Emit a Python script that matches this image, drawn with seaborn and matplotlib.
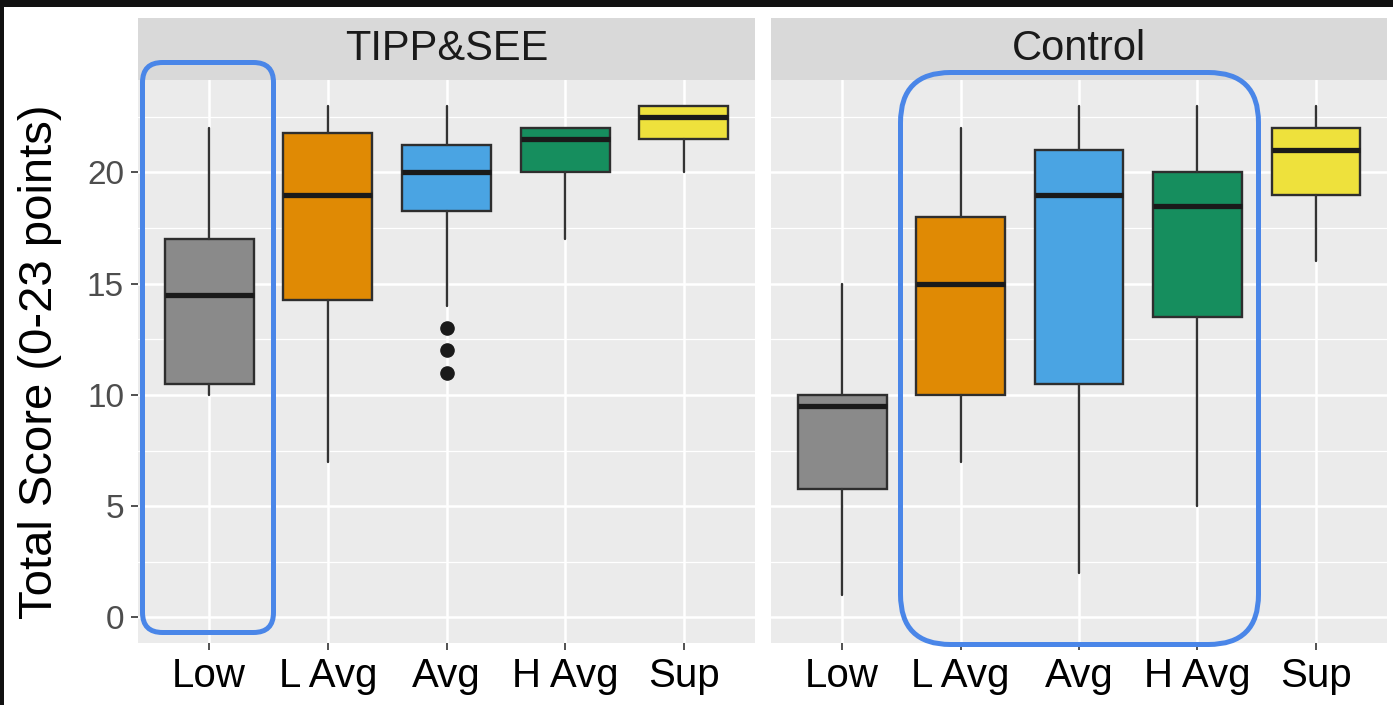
import matplotlib
matplotlib.use("Agg")
import numpy as np
import pandas as pd
import matplotlib.pyplot as plt
from matplotlib.patches import Rectangle, FancyBboxPatch
from matplotlib.transforms import IdentityTransform
import seaborn as sns

# ---- data -------------------------------------------------------------
groups = ["Low", "L Avg", "Avg", "H Avg", "Sup"]
arms = ["TIPP&SEE", "Control"]
fills = ["#8A8A8A", "#E08A04", "#4AA4E3", "#168E5E", "#EEE13C"]

tipp_whislo = [10, 7, 14, 17, 20]
tipp_q1 = [10.5, 14.25, 18.25, 20, 21.5]
tipp_med = [14.5, 19, 20, 21.5, 22.5]
tipp_q3 = [17, 21.75, 21.25, 22, 23]
tipp_whishi = [22, 23, 23, 22, 23]
tipp_outliers = {"Avg": [13, 12, 11]}

ctrl_whislo = [1, 7, 2, 5, 16]
ctrl_q1 = [5.75, 10, 10.5, 13.5, 19]
ctrl_med = [9.5, 15, 19, 18.5, 21]
ctrl_q3 = [10, 18, 21, 20, 22]
ctrl_whishi = [15, 22, 23, 23, 23]
ctrl_outliers = {}

y_major = [0, 5, 10, 15, 20]
y_minor = [2.5, 7.5, 12.5, 17.5, 22.5]
y_label = "Total Score (0-23 points)"

# ---- tidy table of box statistics ---------------------------------------
rows = []
for arm, lo, q1, med, q3, hi, outl in [
    ("TIPP&SEE", tipp_whislo, tipp_q1, tipp_med, tipp_q3, tipp_whishi, tipp_outliers),
    ("Control", ctrl_whislo, ctrl_q1, ctrl_med, ctrl_q3, ctrl_whishi, ctrl_outliers),
]:
    for i, grp in enumerate(groups):
        rows.append(dict(arm=arm, group=grp, pos=i, whislo=lo[i], q1=q1[i],
                         med=med[i], q3=q3[i], whishi=hi[i],
                         fliers=outl.get(grp, [])))
stats = pd.DataFrame(rows)

# ---- theme --------------------------------------------------------------
sns.set_theme(style="darkgrid", rc={
    "axes.facecolor": "#EBEBEB",
    "grid.color": "white",
    "figure.facecolor": "white",
    "xtick.bottom": True,
    "ytick.left": True,
})
plt.rcParams["font.family"] = ["Liberation Sans", "DejaVu Sans"]

W, H, DPI = 1393, 705, 100


def draw_boxes(data, **kws):
    ax = plt.gca()
    recs = []
    for _, r in data.iterrows():
        recs.append(dict(med=r.med, q1=r.q1, q3=r.q3, whislo=r.whislo,
                         whishi=r.whishi, fliers=np.asarray(r.fliers, float),
                         label=r.group))
    parts = ax.bxp(recs, positions=list(data["pos"]), widths=0.75,
                   patch_artist=True, showcaps=False, manage_ticks=False,
                   boxprops=dict(edgecolor="#2E2E2E", linewidth=1.7),
                   whiskerprops=dict(color="#333333", linewidth=1.7),
                   medianprops=dict(color="#1A1A1A", linewidth=3.8,
                                    solid_capstyle="butt"),
                   flierprops=dict(marker="o", markerfacecolor="#1A1A1A",
                                   markeredgecolor="#1A1A1A", markersize=9.5))
    for box, c in zip(parts["boxes"], fills):
        box.set_facecolor(c)


g = sns.FacetGrid(stats, col="arm", col_order=arms, sharey=True,
                  height=5, aspect=1.2, despine=False)
g.map_dataframe(draw_boxes)

fig = g.figure
fig.set_size_inches(W / DPI, H / DPI)
fig.set_dpi(DPI)

# panel placement in pixels (left, top, right, bottom)
panels = [(138, 80, 755, 643), (771, 80, 1387, 643)]
strip_top = 18

for ax, arm, (l, t, r, b) in zip(g.axes.flat, arms, panels):
    ax.set_position([l / W, (H - b) / H, (r - l) / W, (b - t) / H])
    ax.set_title("")
    ax.set_xlabel("")
    ax.set_ylabel("")
    ax.set_xlim(-0.6, 4.6)
    ax.set_ylim(-1.15, 24.15)
    ax.set_xticks(range(len(groups)))
    ax.set_xticklabels(groups)
    ax.set_yticks(y_major)
    ax.set_yticks(y_minor, minor=True)
    ax.grid(which="major", color="white", linewidth=1.8)
    ax.grid(which="minor", axis="y", color="white", linewidth=0.9)
    ax.grid(which="minor", axis="x", visible=False)
    ax.set_axisbelow(True)
    for s in ax.spines.values():
        s.set_visible(False)
    ax.tick_params(axis="x", which="major", bottom=True, length=5, width=1.2,
                   color="#333333", labelsize=29, labelcolor="black", pad=5)
    ax.tick_params(axis="y", which="major", left=True, length=5, width=1.2,
                   color="#333333", labelsize=24, labelcolor="#4D4D4D", pad=5)
    ax.tick_params(which="minor", length=0)

    # facet strip
    fig.patches.append(Rectangle((l / W, (H - t) / H), (r - l) / W,
                                 (t - strip_top) / H, transform=fig.transFigure,
                                 facecolor="#D9D9D9", edgecolor="none",
                                 zorder=0))
    fig.text((l + r) / 2 / W, (H - (t + strip_top) / 2) / H, arm,
             ha="center", va="center", fontsize=30, color="#1A1A1A")

g.axes.flat[1].tick_params(axis="y", left=False, labelleft=False)

fig.text(40 / W, (H - (80 + 643) / 2) / H, y_label, rotation=90,
         ha="center", va="center", fontsize=34, color="black")

# highlight outlines (pixel coordinates, y measured from the bottom)
ident = IdentityTransform()
for (x0, y0, x1, y1, rad) in [(142.5, 72.5, 273.5, 642.5, 20),
                              (900.5, 60.5, 1258.5, 632.5, 50)]:
    fig.patches.append(FancyBboxPatch(
        (x0, y0), x1 - x0, y1 - y0,
        boxstyle=f"round,pad=0,rounding_size={rad}",
        transform=ident, facecolor="none", edgecolor="#4A86E8",
        linewidth=3.6, zorder=5))

# dark frame along the top and left edges
fig.patches.append(Rectangle((0, H - 7), W, 7, transform=ident,
                             facecolor="#111111", edgecolor="none", zorder=6))
fig.patches.append(Rectangle((0, 0), 4, H, transform=ident,
                             facecolor="#111111", edgecolor="none", zorder=6))

fig.savefig("out.png", dpi=DPI)
